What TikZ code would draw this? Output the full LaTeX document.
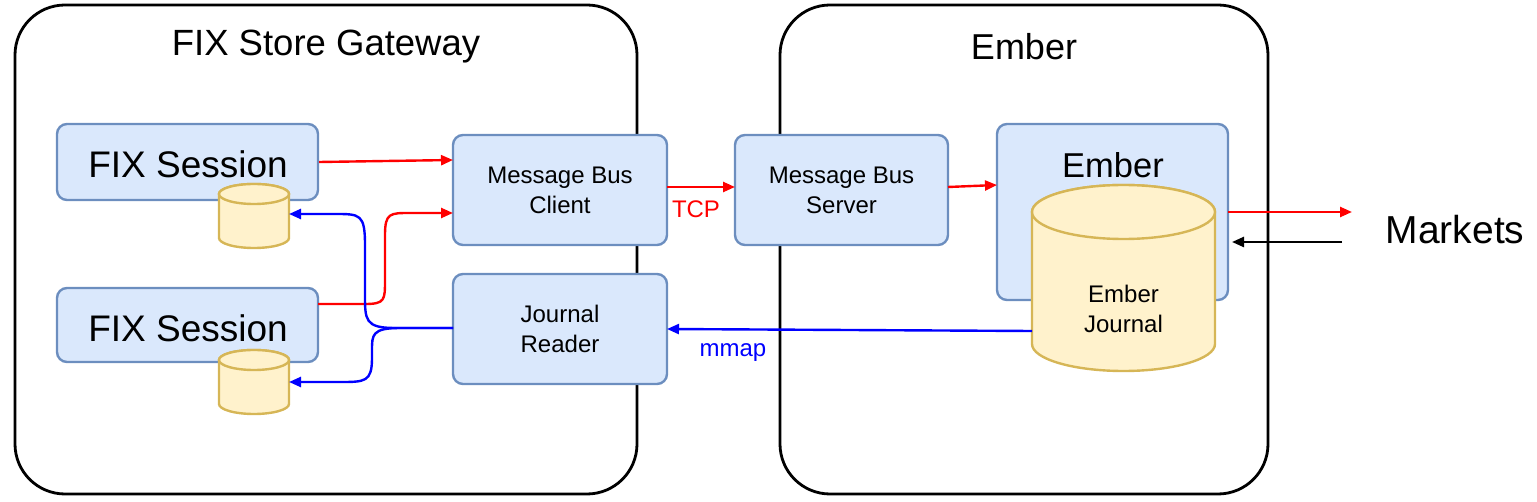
\documentclass[tikz,border=0pt]{standalone}
\usepackage{fontspec}
\setmainfont{Liberation Sans}
\usetikzlibrary{arrows.meta}
\definecolor{bfill}{HTML}{DAE8FC}
\definecolor{bline}{HTML}{6C8EBF}
\definecolor{yfill}{HTML}{FFF2CC}
\definecolor{yline}{HTML}{D6B656}
% cx, ytop(center of top ellipse), ybot(center of bottom ellipse), rx, ry
\newcommand\mycyl[5]{%
  \draw[draw=yline,fill=yfill,line width=2.4pt] (#1-#4,#2) -- (#1-#4,#3) arc[start angle=180,end angle=0,x radius=#4,y radius=#5] -- (#1+#4,#2) arc[start angle=0,end angle=-180,x radius=#4,y radius=#5] -- cycle;
  \draw[draw=yline,fill=yfill,line width=2.4pt] (#1,#2) ellipse[x radius=#4,y radius=#5];}
\begin{document}
\begin{tikzpicture}[x=1pt,y=-1pt,
  cont/.style={draw,line width=2.8pt,rounded corners=50pt},
  box/.style={draw=bline,fill=bfill,line width=2.4pt,rounded corners=10pt},
  btxt/.style={align=center,font=\fontsize{24}{30}\selectfont},
  ra/.style={red,line width=2.4pt,-{Triangle[length=12pt,width=10pt]}},
  ba/.style={blue,line width=2.4pt,-{Triangle[length=12pt,width=10pt]}},
  ka/.style={black,line width=2.4pt,-{Triangle[length=12pt,width=10pt]}}]
\useasboundingbox (0,0) rectangle (1537,502);
\draw[cont] (15,5) rectangle (637,494);
\draw[cont] (780,5) rectangle (1268,494);
\node (t1) at (326,47) {\fontsize{36.5}{42}\selectfont FIX Store Gateway};
\node (t2) at (1024,47) {\fontsize{36}{42}\selectfont Ember};
\node[box,minimum width=261pt,minimum height=76pt] (fs1) at (187.5,162) {};
\node at (188,164) {\fontsize{37}{42}\selectfont FIX Session};
\node[box,minimum width=261pt,minimum height=74pt] (fs2) at (187.5,325) {};
\node at (188,328) {\fontsize{37}{42}\selectfont FIX Session};
\mycyl{254}{194}{238}{35}{10}
\coordinate (c1) at (289,214);
\mycyl{254}{360}{404}{35}{10}
\coordinate (c2) at (289,382);
\node[box,minimum width=214pt,minimum height=110pt,btxt] (mbc) at (560,190) {Message Bus\\Client};
\node[box,minimum width=214pt,minimum height=110pt,btxt] (jr) at (560,329) {Journal\\Reader};
\node[box,minimum width=213pt,minimum height=110pt,btxt] (mbs) at (841.5,190) {Message Bus\\Server};
\node[box,minimum width=231pt,minimum height=176pt] (em) at (1112.5,212) {};
\node at (1113,165) {\fontsize{34.5}{40}\selectfont Ember};
\mycyl{1123.5}{212}{344}{91.5}{27}
\node[btxt] (ej) at (1123.5,309) {Ember\\Journal};
\node (mk) at (1455,230) {\fontsize{39}{44}\selectfont Markets};
\coordinate (m1) at (1352,212);
\coordinate (m2) at (1232,242);
\coordinate (m3) at (1342,242);
\coordinate (ejl) at (1032,331);
% red
\draw[ra] (fs1.east |- 0,162) -- (453,160);
\draw[ra] (318,304) -- (365,304) .. controls (385,304) and (385,300) .. (385,280) -- (385,235) .. controls (385,213) and (390,213) .. (410,213) -- (453,213);
\draw[ra] (667,187) -- (735,187);
\node[red,font=\fontsize{24}{28}\selectfont] at (696,209) {TCP};
\draw[ra] (948,187) -- (997,185);
\draw[ra] (1228,212) -- (m1);
\draw[ka] (m3) -- (m2);
% blue
\draw[ba] (453,328) -- (395,328) .. controls (365,328) and (365,320) .. (365,295) -- (365,245) .. controls (365,214) and (360,214) .. (335,214) -- (c1);
\draw[ba] (453,328) -- (400,328) .. controls (372,328) and (372,335) .. (372,350) -- (372,358) .. controls (372,382) and (365,382) .. (340,382) -- (c2);
\draw[ba] (ejl) -- (667,329);
\node[blue,font=\fontsize{24}{28}\selectfont] at (733,353) {mmap};
\end{tikzpicture}
\end{document}
